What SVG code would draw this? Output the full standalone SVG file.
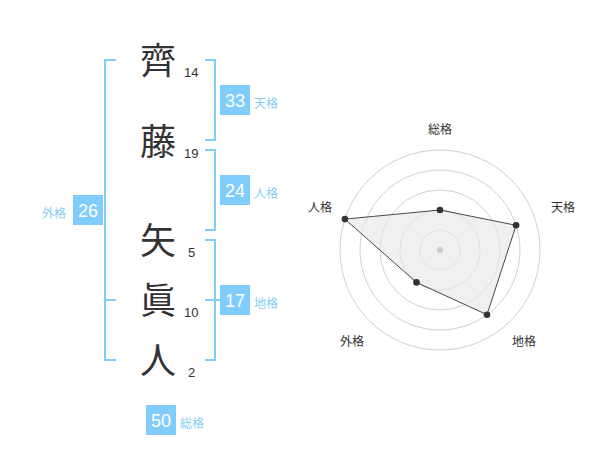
<svg xmlns="http://www.w3.org/2000/svg" width="600" height="470" viewBox="0 0 600 470">
<style>
.ch{font-family:"Noto Sans CJK JP","Noto Sans CJK SC",sans-serif;font-size:36px;fill:#333;text-anchor:middle}
.num{font-family:"Liberation Sans",Arial,sans-serif;font-size:13px;fill:#333}
.box{fill:#80ccfa}
.bv{font-family:"Liberation Sans",Arial,sans-serif;font-size:18px;fill:#fff;text-anchor:middle}
.lb{font-family:"Noto Sans CJK JP",sans-serif;font-size:12px;fill:#86cdf5}
.br{fill:none;stroke:#80ccfa;stroke-width:2}
.ring{fill:none;stroke:#d0d0d0;stroke-width:1}
.rl{font-family:"Noto Sans CJK JP",sans-serif;font-size:12px;fill:#333;text-anchor:middle}
.pt{fill:#333}
</style>
<rect width="600" height="470" fill="#fff"/>
<g id="names">
<g id="c1"><text class="ch" x="158" y="74">齊</text><text class="num" x="184" y="77">14</text></g>
<g id="c2"><text class="ch" x="158" y="155">藤</text><text class="num" x="184" y="158">19</text></g>
<g id="c3"><text class="ch" x="158" y="254">矢</text><text class="num" x="188" y="257">5</text></g>
<g id="c4"><text class="ch" x="158" y="314">眞</text><text class="num" x="184" y="317">10</text></g>
<g id="c5"><text class="ch" x="158" y="374">人</text><text class="num" x="188" y="377">2</text></g>
</g>
<g id="connectors">
<path class="br" d="M205 60H215V140H205"/>
<path class="br" d="M205 150H215V230H205"/>
<path class="br" d="M205 240H215V360H205M205 300H220"/>
<path class="br" d="M116 60H105V360H116M105 300H116"/>
</g>
<g id="tenkaku"><rect class="box" x="220" y="85" width="30" height="30"/><text class="bv" x="235" y="107">33</text><text class="lb" x="254" y="108">天格</text></g>
<g id="jinkaku"><rect class="box" x="220" y="175" width="30" height="30"/><text class="bv" x="235" y="197">24</text><text class="lb" x="254" y="198">人格</text></g>
<g id="chikaku"><rect class="box" x="220" y="285" width="30" height="30"/><text class="bv" x="235" y="307">17</text><text class="lb" x="254" y="308">地格</text></g>
<g id="gaikaku"><rect class="box" x="73" y="195" width="30" height="30"/><text class="bv" x="88" y="217">26</text><text class="lb" x="66" y="218" text-anchor="end">外格</text></g>
<g id="soukaku"><rect class="box" x="146" y="405" width="30" height="30"/><text class="bv" x="161" y="427">50</text><text class="lb" x="180" y="428">総格</text></g>
<g id="radar">
<circle class="ring" cx="440" cy="250" r="20"/>
<circle class="ring" cx="440" cy="250" r="40"/>
<circle class="ring" cx="440" cy="250" r="60"/>
<circle class="ring" cx="440" cy="250" r="80"/>
<circle class="ring" cx="440" cy="250" r="100"/>
<polygon points="440,210 516.1,225.3 487,314.7 416.5,282.4 344.9,219.1" fill="#e8e8e8" fill-opacity="0.65" stroke="#333" stroke-width="0.9"/>
<circle cx="440" cy="250" r="3" fill="#ccc"/>
<circle class="pt" cx="440" cy="210" r="3.3"/>
<circle class="pt" cx="516.1" cy="225.3" r="3.3"/>
<circle class="pt" cx="487" cy="314.7" r="3.3"/>
<circle class="pt" cx="416.5" cy="282.4" r="3.3"/>
<circle class="pt" cx="344.9" cy="219.1" r="3.3"/>
<text class="rl" x="440" y="134">総格</text>
<text class="rl" x="563" y="212">天格</text>
<text class="rl" x="524" y="346">地格</text>
<text class="rl" x="352" y="346">外格</text>
<text class="rl" x="320" y="212">人格</text>
</g>
</svg>
